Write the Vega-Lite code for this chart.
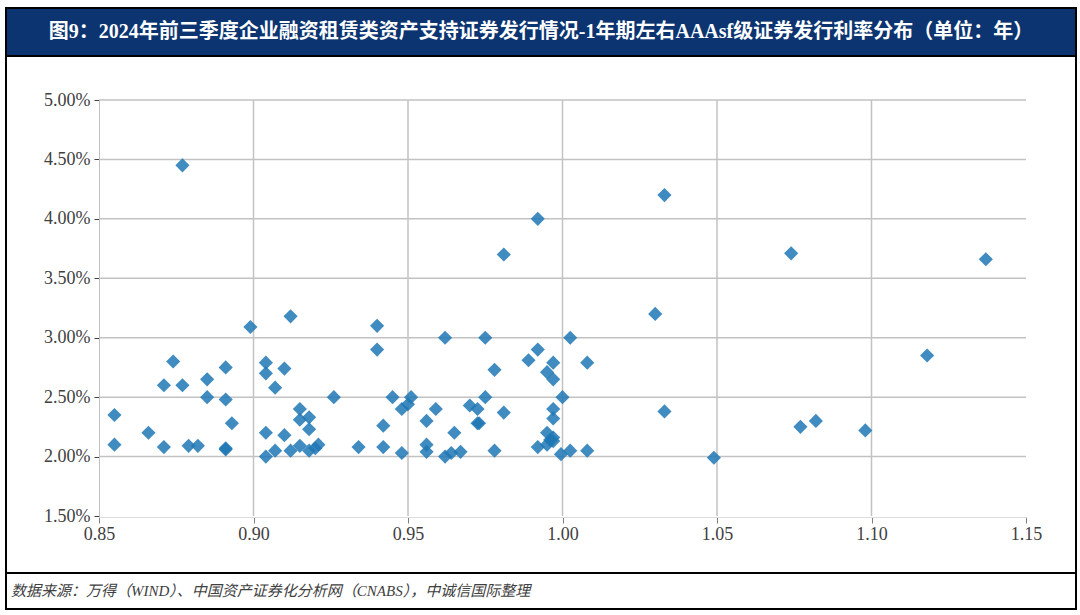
{
  "$schema": "https://vega.github.io/schema/vega-lite/v6.json",
  "padding": {"left": 5, "top": 7, "right": 5, "bottom": 7},
  "spacing": 0,
  "bounds": "flush",
  "config": {
    "font": "Liberation Serif",
    "axis": {"labelFont": "Liberation Serif", "labelFontSize": 18, "labelColor": "#404040", "labelFlush": false}
  },
  "vconcat": [
    {
      "width": 1070,
      "height": 48,
      "view": {"fill": "#0b3470", "stroke": "#000", "strokeWidth": 2},
      "data": {"values": [{"t": "图9：2024年前三季度企业融资租赁类资产支持证券发行情况-1年期左右AAAsf级证券发行利率分布（单位：年）"}]},
      "mark": {"type": "text", "color": "#ffffff", "fontSize": 20, "fontWeight": "bold", "font": "Liberation Serif, Noto Sans CJK SC"},
      "encoding": {"text": {"field": "t"}}
    },
    {
      "width": 1070,
      "height": 517,
      "view": {"stroke": "#000", "strokeWidth": 2},
      "layer": [
        {
          "data": {"values": [{"y": 0.02}, {"y": 0.025}, {"y": 0.03}, {"y": 0.035}, {"y": 0.04}, {"y": 0.045}, {"y": 0.05}]},
          "mark": {"type": "rule", "color": "#c2c2c2", "strokeWidth": 1.5},
          "encoding": {
            "y": {
              "field": "y", "type": "quantitative", "title": null,
              "scale": {"domain": [0.015, 0.05], "range": [460, 44], "nice": false, "zero": false},
              "axis": {"values": [0.015, 0.02, 0.025, 0.03, 0.035, 0.04, 0.045, 0.05], "format": ".2%", "offset": -93, "grid": false, "domainColor": "#bfbfbf", "tickColor": "#404040", "tickSize": 5, "labelPadding": 4, "labelFlush": false, "title": null}
            },
            "x": {
              "datum": 0.85, "type": "quantitative", "title": null,
              "scale": {"domain": [0.85, 1.15], "range": [93, 1020], "nice": false, "zero": false},
              "axis": {"values": [0.85, 0.9, 0.95, 1.0, 1.05, 1.1, 1.15], "format": ".2f", "offset": -56, "grid": false, "domainColor": "#dddddd", "tickColor": "#808080", "tickSize": 6, "labelPadding": 2, "labelFlush": false, "title": null}
            },
            "x2": {"datum": 1.15}
          }
        },
        {
          "data": {"values": [{"x": 0.9}, {"x": 0.95}, {"x": 1.0}, {"x": 1.05}, {"x": 1.1}]},
          "mark": {"type": "rule", "color": "#c2c2c2", "strokeWidth": 1.5},
          "encoding": {
            "x": {"field": "x", "type": "quantitative", "title": null},
            "y": {"datum": 0.015, "type": "quantitative", "title": null},
            "y2": {"datum": 0.05}
          }
        },
        {
          "data": {"values": [
            {"x": 0.912, "y": 0.0318}, {"x": 0.899, "y": 0.0309}, {"x": 0.874, "y": 0.0280}, {"x": 0.891, "y": 0.0275},
            {"x": 0.904, "y": 0.0279}, {"x": 0.904, "y": 0.0270}, {"x": 0.910, "y": 0.0274}, {"x": 0.871, "y": 0.0260},
            {"x": 0.877, "y": 0.0260}, {"x": 0.885, "y": 0.0265}, {"x": 0.907, "y": 0.0258}, {"x": 0.885, "y": 0.0250},
            {"x": 0.891, "y": 0.0248}, {"x": 0.926, "y": 0.0250}, {"x": 0.855, "y": 0.0235}, {"x": 0.915, "y": 0.0240},
            {"x": 0.915, "y": 0.0231}, {"x": 0.918, "y": 0.0233}, {"x": 0.918, "y": 0.0223}, {"x": 0.893, "y": 0.0228},
            {"x": 0.866, "y": 0.0220}, {"x": 0.904, "y": 0.0220}, {"x": 0.910, "y": 0.0218}, {"x": 0.855, "y": 0.0210},
            {"x": 0.871, "y": 0.0208}, {"x": 0.879, "y": 0.0209}, {"x": 0.882, "y": 0.0209}, {"x": 0.891, "y": 0.0207},
            {"x": 0.891, "y": 0.0206}, {"x": 0.904, "y": 0.0200}, {"x": 0.907, "y": 0.0205}, {"x": 0.912, "y": 0.0205},
            {"x": 0.915, "y": 0.0209}, {"x": 0.918, "y": 0.0205}, {"x": 0.921, "y": 0.0210}, {"x": 0.920, "y": 0.0207},
            {"x": 0.934, "y": 0.0208}, {"x": 0.877, "y": 0.0445},
            {"x": 0.940, "y": 0.0310}, {"x": 0.940, "y": 0.0290}, {"x": 0.962, "y": 0.0300}, {"x": 0.975, "y": 0.0300},
            {"x": 1.0025, "y": 0.0300}, {"x": 0.992, "y": 0.0290}, {"x": 0.989, "y": 0.0281}, {"x": 0.997, "y": 0.0279},
            {"x": 1.008, "y": 0.0279}, {"x": 0.978, "y": 0.0273}, {"x": 0.995, "y": 0.0271}, {"x": 0.997, "y": 0.0265},
            {"x": 0.945, "y": 0.0250}, {"x": 0.951, "y": 0.0250}, {"x": 0.950, "y": 0.0244}, {"x": 0.948, "y": 0.0240},
            {"x": 0.975, "y": 0.0250}, {"x": 1.000, "y": 0.0250}, {"x": 0.959, "y": 0.0240}, {"x": 0.970, "y": 0.0243},
            {"x": 0.9725, "y": 0.0240}, {"x": 0.981, "y": 0.0237}, {"x": 0.997, "y": 0.0240}, {"x": 0.997, "y": 0.0232},
            {"x": 0.956, "y": 0.0230}, {"x": 0.9725, "y": 0.0228}, {"x": 0.973, "y": 0.0228}, {"x": 0.942, "y": 0.0226},
            {"x": 0.965, "y": 0.0220}, {"x": 0.995, "y": 0.0220}, {"x": 0.997, "y": 0.0216}, {"x": 0.996, "y": 0.0214},
            {"x": 0.942, "y": 0.0208}, {"x": 0.948, "y": 0.0203}, {"x": 0.956, "y": 0.0210}, {"x": 0.956, "y": 0.0204},
            {"x": 0.962, "y": 0.0200}, {"x": 0.964, "y": 0.0203}, {"x": 0.967, "y": 0.0204}, {"x": 0.978, "y": 0.0205},
            {"x": 0.992, "y": 0.0208}, {"x": 0.995, "y": 0.0210}, {"x": 0.9995, "y": 0.0202}, {"x": 1.0025, "y": 0.0205},
            {"x": 1.008, "y": 0.0205}, {"x": 0.997, "y": 0.0213},
            {"x": 0.981, "y": 0.0370}, {"x": 0.992, "y": 0.0400}, {"x": 1.033, "y": 0.0420},
            {"x": 1.030, "y": 0.0320}, {"x": 1.033, "y": 0.0238}, {"x": 1.049, "y": 0.0199}, {"x": 1.077, "y": 0.0225},
            {"x": 1.082, "y": 0.0230}, {"x": 1.098, "y": 0.0222}, {"x": 1.074, "y": 0.0371}, {"x": 1.137, "y": 0.0366},
            {"x": 1.118, "y": 0.0285}
          ]},
          "mark": {"type": "point", "shape": "diamond", "filled": true, "size": 200, "color": "#1f77b4", "opacity": 0.85},
          "encoding": {
            "x": {"field": "x", "type": "quantitative", "title": null},
            "y": {"field": "y", "type": "quantitative", "title": null}
          }
        }
      ]
    },
    {
      "width": 1070,
      "height": 36,
      "view": {"stroke": "#000", "strokeWidth": 2},
      "title": {
        "text": "数据来源：万得（WIND）、中国资产证券化分析网（CNABS），中诚信国际整理",
        "anchor": "start", "orient": "top", "offset": -26, "dx": 5,
        "fontSize": 15, "fontStyle": "italic", "fontWeight": "normal", "color": "#404040",
        "font": "Liberation Serif, Noto Sans CJK SC"
      },
      "data": {"values": [{"t": ""}]},
      "mark": {"type": "text"},
      "encoding": {"text": {"field": "t"}}
    }
  ]
}
